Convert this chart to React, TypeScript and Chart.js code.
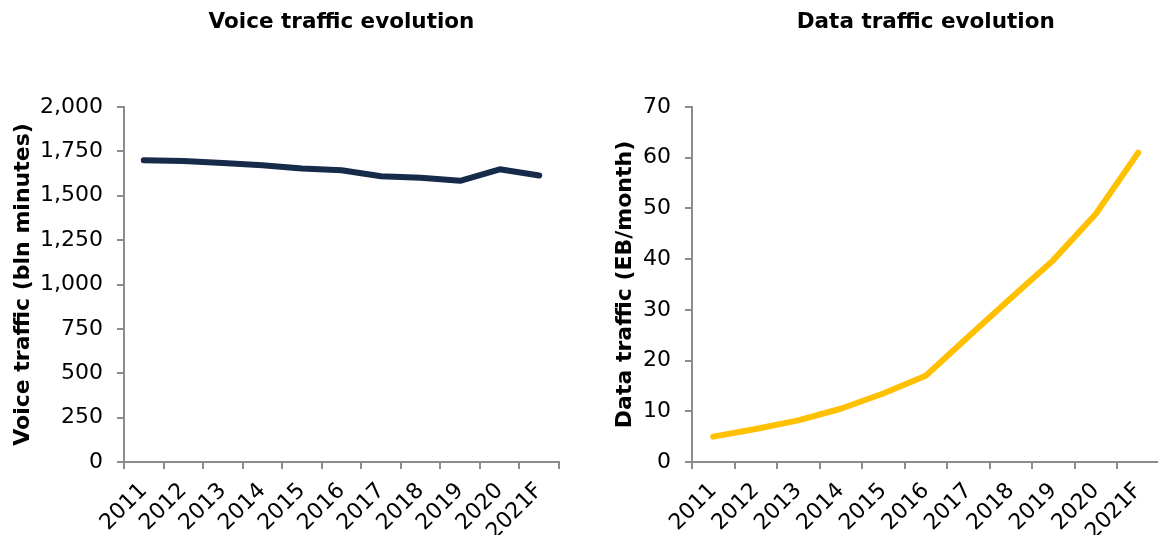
import React, { useEffect, useRef } from "react";
import { Chart, registerables } from "chart.js";

Chart.register(...registerables);

const categories = ["2011", "2012", "2013", "2014", "2015", "2016", "2017", "2018", "2019", "2020", "2021F"];
const voiceValues = [1700, 1696, 1685, 1672, 1653, 1644, 1610, 1601, 1584, 1649, 1614];
const dataValues = [5.0, 6.5, 8.2, 10.5, 13.5, 17.0, 24.7, 32.3, 39.8, 48.9, 61.0];
const voiceTicks = [0, 250, 500, 750, 1000, 1250, 1500, 1750, 2000];
const dataTicks = [0, 10, 20, 30, 40, 50, 60, 70];

const FONT = "'DejaVu Sans', Verdana, sans-serif";
const AXIS = "#8c8c8c";

function makeConfig(opts: {
  title: string;
  yTitle: string;
  values: number[];
  ticks: number[];
  color: string;
  yWidth: number;
  padRight: number;
  yTitlePad: number;
  comma: boolean;
}) {
  const max = opts.ticks[opts.ticks.length - 1];
  const step = opts.ticks[1] - opts.ticks[0];
  return {
    type: "line" as const,
    data: {
      labels: categories,
      datasets: [
        {
          data: opts.values,
          borderColor: opts.color,
          backgroundColor: opts.color,
          borderWidth: 6,
          pointRadius: 0,
          tension: 0,
          borderCapStyle: "round" as const,
          borderJoinStyle: "round" as const,
        },
      ],
    },
    options: {
      responsive: false,
      animation: false as const,
      devicePixelRatio: 1,
      layout: { padding: { left: 0, right: opts.padRight, top: 0, bottom: 0 } },
      plugins: {
        legend: { display: false },
        tooltip: { enabled: false },
        title: {
          display: true,
          text: opts.title,
          fullSize: false,
          color: "#000",
          font: { family: FONT, size: 21.5, weight: "bold" as const, lineHeight: 1.2 },
          padding: { top: 10, bottom: 71.2 },
        },
      },
      scales: {
        x: {
          type: "category" as const,
          offset: true,
          grid: {
            display: true,
            offset: true,
            drawOnChartArea: false,
            drawTicks: true,
            tickLength: 7,
            color: AXIS,
            lineWidth: 2,
          },
          border: { display: true, color: AXIS, width: 2 },
          ticks: {
            autoSkip: false,
            maxRotation: 45,
            minRotation: 45,
            padding: 9,
            color: "#000",
            font: { family: FONT, size: 22 },
          },
          afterFit: (scale: any) => {
            scale.height = 73;
          },
        },
        y: {
          type: "linear" as const,
          min: 0,
          max: max,
          afterBuildTicks: (scale: any) => {
            scale.ticks = opts.ticks.map((v) => ({ value: v }));
          },
          grid: {
            display: true,
            drawOnChartArea: false,
            drawTicks: true,
            tickLength: 7,
            color: AXIS,
            lineWidth: 2,
          },
          border: { display: true, color: AXIS, width: 2 },
          ticks: {
            stepSize: step,
            padding: 14,
            color: "#000",
            font: { family: FONT, size: 22 },
            callback: (v: any) => (opts.comma ? Number(v).toLocaleString("en-US") : String(v)),
          },
          title: {
            display: true,
            text: opts.yTitle,
            color: "#000",
            font: { family: FONT, size: 22, weight: "bold" as const, lineHeight: 1.2 },
            padding: { top: opts.yTitlePad, bottom: 0 },
          },
          afterFit: (scale: any) => {
            scale.width = opts.yWidth;
          },
        },
      },
    },
  };
}

function ChartCanvas(props: { config: any; left: number; width: number; height: number }) {
  const ref = useRef<HTMLCanvasElement | null>(null);
  useEffect(() => {
    if (!ref.current) return;
    const chart = new Chart(ref.current, props.config);
    return () => chart.destroy();
  }, []);
  return (
    <canvas
      ref={ref}
      width={props.width}
      height={props.height}
      style={{ position: "absolute", left: props.left, top: 0, width: props.width, height: props.height }}
    />
  );
}

export default function App() {
  const voiceConfig = makeConfig({
    title: "Voice traffic evolution",
    yTitle: "Voice traffic (bln minutes)",
    values: voiceValues,
    ticks: voiceTicks,
    color: "#162a4a",
    yWidth: 124,
    padRight: 21,
    yTitlePad: 10,
    comma: true,
  });
  const dataConfig = makeConfig({
    title: "Data traffic evolution",
    yTitle: "Data traffic (EB/month)",
    values: dataValues,
    ticks: dataTicks,
    color: "#ffc000",
    yWidth: 92,
    padRight: 20.5,
    yTitlePad: 12.4,
    comma: false,
  });
  return (
    <div
      style={{
        position: "fixed",
        left: 0,
        top: 0,
        width: 1158,
        height: 535,
        overflow: "hidden",
        background: "#fff",
      }}
    >
      <ChartCanvas config={voiceConfig} left={0} width={580} height={535} />
      <ChartCanvas config={dataConfig} left={600} width={580} height={535} />
    </div>
  );
}
